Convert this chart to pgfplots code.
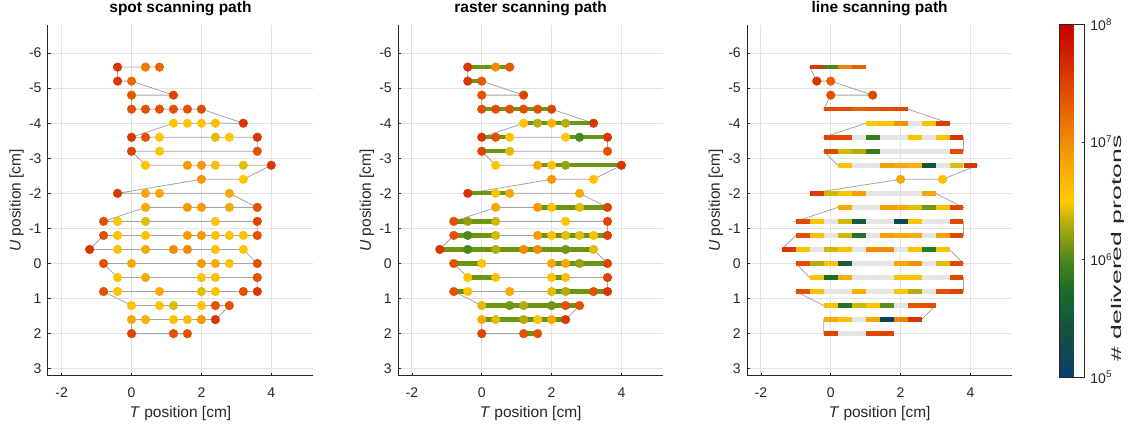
\documentclass[border=0pt]{standalone}
\usepackage{fontspec}
\setmainfont{Liberation Sans}
\usepackage{graphicx}
\usepackage{pgfplots}
\pgfplotsset{compat=1.18}
\usepackage{pgfplotstable}

\definecolor{axisgray}{RGB}{38,38,38}
\definecolor{gridgray}{RGB}{226,226,226}
\definecolor{pathgray}{RGB}{165,165,165}
\definecolor{seggray}{RGB}{229,229,229}
\definecolor{rastergreen}{RGB}{106,150,20}

\pgfdeclareplotmark{seg}{\pgfpathrectangle{\pgfqpoint{-6.98pt}{-2.3pt}}{\pgfqpoint{13.96pt}{4.6pt}}\pgfusepathqfill}

\pgfplotsset{
  colormap={protons}{rgb255(0pt)=(10,60,105) rgb255(4pt)=(22,80,65) rgb255(7.5pt)=(25,110,38) rgb255(10pt)=(75,135,28) rgb255(12.5pt)=(160,165,15) rgb255(15pt)=(255,200,0) rgb255(18pt)=(248,168,0) rgb255(22pt)=(236,110,0) rgb255(28pt)=(208,24,0) rgb255(30pt)=(200,0,0)},
  panel/.style={
    scale only axis, width=265.5pt, height=350.7pt, anchor=south west,
    xmin=-2.4, xmax=5.2, ymin=-6.8, ymax=3.2, y dir=reverse,
    axis x line*=bottom, axis y line*=left,
    axis line style={draw=axisgray, line width=0.8pt},
    xtick={-2,0,2,4}, xticklabels={-2,0,2,4},
    ytick={-6,-5,-4,-3,-2,-1,0,1,2,3}, yticklabels={-6,-5,-4,-3,-2,-1,0,1,2,3},
    grid=major, grid style={draw=gridgray, line width=0.8pt},
    tick align=inside, major tick length=3pt,
    tick style={draw=axisgray, line width=0.6pt},
    ticklabel style={font=\fontsize{14}{16}\selectfont, text=axisgray},
    xticklabel style={anchor=base, inner sep=0pt, yshift=-21.6pt},
    yticklabel style={anchor=east, inner sep=0pt, xshift=-6pt},
    xlabel={\textit{T} position [cm]}, ylabel={\textit{U} position [cm]},
    label style={font=\fontsize{15.5}{18}\selectfont, text=axisgray},
    xlabel style={at={(axis description cs:0.5,-0.12)}, anchor=base},
    ylabel style={at={(axis description cs:-0.1017,0.5)}, anchor=base},
    title style={at={(axis description cs:0.5,1.0191)}, anchor=base, font=\bfseries\fontsize{15.5}{18}\selectfont, text=black},
    colormap name=protons, point meta min=5, point meta max=8,
  },
  spotmarks/.style={scatter, only marks, mark=*, mark size=4.35pt, scatter src=explicit,
    scatter/use mapped color={draw=mapped color, fill=mapped color}},
  pathline/.style={no marks, draw=pathgray, line width=0.8pt},
}

\pgfplotstableread{
x y c
0.8 -5.6 7.25
0.4 -5.6 7.1
-0.4 -5.6 7.6
-0.4 -5.2 7.6
0 -5.2 7.25
1.2 -4.8 7.5
0 -4.8 7.35
0 -4.4 7.4
0.4 -4.4 7.4
0.8 -4.4 7.4
1.2 -4.4 7.4
1.6 -4.4 7.4
2.0 -4.4 7.45
3.2 -4.0 7.6
2.4 -4.0 6.6
2.0 -4.0 6.55
1.6 -4.0 6.55
1.2 -4.0 6.52
0 -3.6 7.6
0.4 -3.6 7.4
0.8 -3.6 6.52
2.4 -3.6 6.42
2.8 -3.6 6.52
3.6 -3.6 7.6
3.6 -3.2 7.4
0.8 -3.2 6.52
0 -3.2 7.5
0.4 -2.8 6.55
1.6 -2.8 6.9
2.0 -2.8 6.9
2.4 -2.8 6.6
3.2 -2.8 6.42
4.0 -2.8 7.6
3.2 -2.4 6.52
2.0 -2.4 6.9
-0.4 -2.0 7.6
0.4 -2.0 6.8
0.8 -2.0 6.8
2.8 -2.0 6.8
3.6 -1.6 7.4
2.8 -1.6 6.8
2.0 -1.6 6.9
1.6 -1.6 6.9
0.4 -1.6 6.8
-0.8 -1.2 7.4
-0.4 -1.2 6.55
0.4 -1.2 6.42
2.4 -1.2 6.55
3.6 -1.2 7.5
3.6 -0.8 7.4
3.2 -0.8 6.55
2.8 -0.8 6.55
2.4 -0.8 6.55
2.0 -0.8 6.9
1.6 -0.8 6.9
0.4 -0.8 6.55
-0.4 -0.8 6.55
-0.8 -0.8 7.4
-1.2 -0.4 7.6
-0.4 -0.4 6.55
0.4 -0.4 6.8
1.2 -0.4 7.0
1.6 -0.4 7.0
2.4 -0.4 6.55
3.2 -0.4 6.52
3.6 0 7.4
2.8 0 6.55
2.4 0 6.8
2.0 0 6.9
0 0 6.8
-0.8 0 7.4
-0.4 0.4 6.55
0.4 0.4 6.8
2.0 0.4 6.55
2.4 0.4 6.55
3.6 0.4 7.4
3.6 0.8 7.6
3.2 0.8 7.4
2.4 0.8 6.55
2.0 0.8 6.42
0.8 0.8 6.8
-0.4 0.8 6.55
-0.8 0.8 7.4
0 1.2 6.55
0.8 1.2 6.55
1.2 1.2 6.42
2.0 1.2 6.55
2.4 1.2 7.4
2.8 1.2 7.4
2.4 1.6 7.6
2.0 1.6 6.9
1.6 1.6 6.6
1.2 1.6 6.55
0.4 1.6 6.72
0 1.6 6.8
0 2.0 7.5
1.2 2.0 7.4
1.6 2.0 7.4
}\spottable

\pgfplotstableread{
x y c
0.8 -5.6 7.35
0.4 -5.6 7.0
-0.4 -5.6 7.6
-0.4 -5.2 7.6
0 -5.2 7.35
1.2 -4.8 7.5
0 -4.8 7.4
0 -4.4 7.4
0.4 -4.4 7.4
0.8 -4.4 7.4
1.2 -4.4 7.4
1.6 -4.4 7.4
2.0 -4.4 7.5
3.2 -4.0 7.6
2.4 -4.0 6.3
2.0 -4.0 6.72
1.6 -4.0 6.3
1.2 -4.0 6.55
0 -3.6 7.6
0.4 -3.6 7.4
0.8 -3.6 6.55
2.4 -3.6 6.52
2.8 -3.6 6.0
3.6 -3.6 7.6
3.6 -3.2 7.4
0.8 -3.2 6.42
0 -3.2 7.5
0.4 -2.8 6.55
1.6 -2.8 6.8
2.0 -2.8 6.55
2.4 -2.8 6.22
4.0 -2.8 7.6
3.2 -2.4 6.55
2.0 -2.4 6.9
-0.4 -2.0 7.6
0.4 -2.0 6.52
0.8 -2.0 6.8
2.8 -2.0 6.8
3.6 -1.6 7.5
2.8 -1.6 6.42
2.0 -1.6 6.55
1.6 -1.6 6.9
0.4 -1.6 6.8
-0.8 -1.2 7.4
-0.4 -1.2 6.22
0.4 -1.2 6.38
2.4 -1.2 6.55
3.6 -1.2 7.5
3.6 -0.8 7.5
3.2 -0.8 6.55
2.8 -0.8 6.42
2.4 -0.8 6.42
2.0 -0.8 6.55
1.6 -0.8 6.9
0.4 -0.8 6.38
-0.4 -0.8 6.0
-0.8 -0.8 7.4
-1.2 -0.4 7.6
-0.4 -0.4 6.0
0.4 -0.4 6.3
1.2 -0.4 7.0
1.6 -0.4 7.0
2.4 -0.4 6.12
3.2 -0.4 6.42
3.6 0 7.5
2.8 0 6.22
2.4 0 6.8
2.0 0 6.8
0 0 6.55
-0.8 0 7.4
-0.4 0.4 6.55
0.4 0.4 6.55
2.0 0.4 6.55
2.4 0.4 6.6
3.6 0.4 7.5
3.6 0.8 7.6
3.2 0.8 7.4
2.4 0.8 6.3
2.0 0.8 6.42
0.8 0.8 6.8
-0.4 0.8 6.55
-0.8 0.8 7.4
0 1.2 6.42
0.8 1.2 6.12
1.2 1.2 6.3
2.0 1.2 6.12
2.4 1.2 7.4
2.8 1.2 7.4
2.4 1.6 7.6
2.0 1.6 6.8
1.6 1.6 6.55
1.2 1.6 6.3
0.4 1.6 6.42
0 1.6 6.8
0 2.0 7.5
1.2 2.0 7.4
1.6 2.0 7.4
}\rastertable

\pgfplotstableread{
x y
-0.4 -5.6
0.8 -5.6
nan nan
-0.4 -5.2
0 -5.2
nan nan
0 -4.4
2.0 -4.4
nan nan
1.2 -4.0
3.2 -4.0
nan nan
0 -3.6
0.8 -3.6
nan nan
2.4 -3.6
3.6 -3.6
nan nan
0 -3.2
0.8 -3.2
nan nan
1.6 -2.8
4.0 -2.8
nan nan
-0.4 -2.0
0.8 -2.0
nan nan
1.6 -1.6
3.6 -1.6
nan nan
-0.8 -1.2
0.4 -1.2
nan nan
-0.8 -0.8
0.4 -0.8
nan nan
1.6 -0.8
3.6 -0.8
nan nan
-1.2 -0.4
3.2 -0.4
nan nan
-0.8 0
0 0
nan nan
2.0 0
3.6 0
nan nan
-0.4 0.4
0.4 0.4
nan nan
2.0 0.4
2.4 0.4
nan nan
-0.8 0.8
-0.4 0.8
nan nan
2.0 0.8
3.6 0.8
nan nan
0 1.2
2.8 1.2
nan nan
0 1.6
2.4 1.6
nan nan
1.2 2.0
1.6 2.0
}\rastersegs

\pgfplotstableread{
x y
1.0 -5.6
-0.6 -5.6
-0.4 -5.2
0 -5.2
1.2 -4.8
0 -4.8
-0.2 -4.4
2.2 -4.4
3.4 -4.0
1.0 -4.0
-0.2 -3.6
3.8 -3.6
3.8 -3.2
-0.2 -3.2
0.2 -2.8
4.2 -2.8
3.2 -2.4
2.0 -2.4
-0.6 -2.0
3.0 -2.0
3.8 -1.6
0.2 -1.6
-1.0 -1.2
3.8 -1.2
3.8 -0.8
-1.0 -0.8
-1.4 -0.4
3.4 -0.4
3.8 0
-1.0 0
-0.6 0.4
3.8 0.4
3.8 0.8
-1.0 0.8
-0.2 1.2
3.0 1.2
2.6 1.6
-0.2 1.6
-0.2 2.0
1.8 2.0
}\linepath

\pgfplotstableread{
x y c
-0.4 -5.6 7.6
0 -5.6 6.0
0.4 -5.6 7.05
0.8 -5.6 7.3
0 -4.4 7.45
0.4 -4.4 7.4
0.8 -4.4 7.3
1.2 -4.4 7.35
1.6 -4.4 7.4
2.0 -4.4 7.45
1.2 -4.0 6.52
1.6 -4.0 6.52
2.0 -4.0 6.95
2.8 -4.0 6.55
3.2 -4.0 7.55
0 -3.6 7.5
0.4 -3.6 7.45
1.2 -3.6 5.9
2.4 -3.6 6.55
3.2 -3.6 6.52
3.6 -3.6 7.6
0 -3.2 7.45
0.4 -3.2 6.38
0.8 -3.2 6.3
1.2 -3.2 5.9
3.6 -3.2 7.4
0.4 -2.8 6.55
1.6 -2.8 6.85
2.0 -2.8 6.8
2.4 -2.8 6.72
2.8 -2.8 5.45
3.6 -2.8 6.42
4.0 -2.8 7.6
-0.4 -2.0 7.55
0 -2.0 6.38
0.4 -2.0 6.55
0.8 -2.0 6.85
2.8 -2.0 6.8
0.4 -1.6 6.8
1.6 -1.6 6.85
2.0 -1.6 6.8
2.4 -1.6 6.42
2.8 -1.6 6.12
3.2 -1.6 6.55
3.6 -1.6 7.45
-0.8 -1.2 7.45
-0.4 -1.2 6.55
0.4 -1.2 6.38
0.8 -1.2 5.5
2.0 -1.2 5.25
2.4 -1.2 6.55
3.6 -1.2 7.45
-0.8 -0.8 7.4
-0.4 -0.8 6.55
0.4 -0.8 6.38
0.8 -0.8 5.8
1.6 -0.8 6.85
2.0 -0.8 6.8
2.4 -0.8 6.75
3.2 -0.8 6.85
3.6 -0.8 7.45
-1.2 -0.4 7.6
-0.8 -0.4 6.55
0 -0.4 6.38
0.4 -0.4 6.55
1.2 -0.4 7.0
1.6 -0.4 7.0
2.4 -0.4 6.55
2.8 -0.4 5.85
3.2 -0.4 6.55
-0.8 0 7.4
-0.4 0 6.3
0 0 6.55
0.4 0 5.55
2.0 0 6.8
2.4 0 6.95
3.2 0 6.42
3.6 0 7.45
-0.4 0.4 6.55
0 0.4 5.75
0.4 0.4 6.75
2.0 0.4 6.55
2.4 0.4 6.55
3.6 0.4 7.45
-0.8 0.8 7.4
-0.4 0.8 6.55
0.8 0.8 6.75
2.0 0.8 6.55
2.4 0.8 6.3
3.2 0.8 7.4
3.6 0.8 7.5
0 1.2 6.55
0.4 1.2 5.8
0.8 1.2 6.38
1.2 1.2 6.55
1.6 1.2 6.05
2.4 1.2 7.35
2.8 1.2 7.4
0 1.6 6.75
0.4 1.6 6.55
1.2 1.6 6.8
1.6 1.6 5.08
2.0 1.6 7.05
2.4 1.6 7.6
0 2.0 7.5
1.2 2.0 7.45
1.6 2.0 7.5
}\linesegs

\pgfplotstableread{
x y
2.4 -4.0
0.8 -3.6
1.6 -3.6
2.0 -3.6
2.8 -3.6
1.6 -3.2
2.0 -3.2
2.4 -3.2
2.8 -3.2
3.2 -3.2
0.8 -2.8
1.2 -2.8
3.2 -2.8
1.2 -2.0
1.6 -2.0
2.0 -2.0
2.4 -2.0
0.8 -1.6
1.2 -1.6
0 -1.2
1.2 -1.2
1.6 -1.2
2.8 -1.2
3.2 -1.2
0 -0.8
1.2 -0.8
2.8 -0.8
-0.4 -0.4
0.8 -0.4
2.0 -0.4
0.8 0
1.2 0
1.6 0
2.8 0
0.8 0.4
1.2 0.4
1.6 0.4
2.8 0.4
3.2 0.4
0 0.8
0.4 0.8
1.2 0.8
1.6 0.8
2.8 0.8
2.0 1.2
0.8 1.6
0.4 2.0
0.8 2.0
}\linegray

\pgfplotstableread{
x y c
-0.4 -5.2 7.6
0 -5.2 7.3
0 -4.8 7.4
1.2 -4.8 7.45
2.0 -2.4 6.8
3.2 -2.4 6.55
}\linespots

\begin{document}
\begin{tikzpicture}
\useasboundingbox (0pt,0pt) rectangle (1129pt,428pt);

% spot scanning
\begin{axis}[panel, at={(47.7pt,52.3pt)}, title={spot scanning path}]
\addplot[pathline] table[x=x,y=y] {\spottable};
\addplot[spotmarks] table[x=x,y=y,meta=c] {\spottable};
\end{axis}

% raster scanning
\begin{axis}[panel, at={(397.9pt,52.3pt)}, title={raster scanning path}]
\addplot[pathline] table[x=x,y=y] {\spottable};
\addplot[no marks, draw=rastergreen, line width=4.3pt, unbounded coords=jump] table[x=x,y=y] {\rastersegs};
\addplot[spotmarks] table[x=x,y=y,meta=c] {\rastertable};
\end{axis}

% line scanning
\begin{axis}[panel, at={(746.9pt,52.3pt)}, title={line scanning path},
  colorbar,
  colorbar style={
    at={(parent axis.north east)}, anchor=north west, xshift=38.5pt, yshift=0.7pt,
    scale only axis, width=25.3pt, height=353pt,
    ytick={5,6,7,8},
    yticklabels={10\textsuperscript{5},10\textsuperscript{6},10\textsuperscript{7},10\textsuperscript{8}},
    ytick pos=right, yticklabel pos=right,
    tick align=inside, major tick length=3pt,
    tick style={draw=axisgray, line width=0.6pt},
    axis line style={draw=axisgray, line width=0.8pt},
    yticklabel style={font=\fontsize{14}{16}\selectfont, text=axisgray, anchor=west, inner sep=0pt, xshift=5.5pt},
  }]
\addplot[pathline] table[x=x,y=y] {\linepath};
\addplot[only marks, mark=seg, color=seggray] table[x=x,y=y] {\linegray};
\addplot[scatter, only marks, mark=seg, scatter src=explicit,
  scatter/use mapped color={draw=mapped color, fill=mapped color}] table[x=x,y=y,meta=c] {\linesegs};
\addplot[spotmarks] table[x=x,y=y,meta=c] {\linespots};
\end{axis}

\node[rotate=90, text=axisgray, font=\fontsize{14}{16}\selectfont, inner sep=0pt] at (1118pt,179.5pt) {\scalebox{1.9}[1]{\# delivered protons}};
\end{tikzpicture}
\end{document}
